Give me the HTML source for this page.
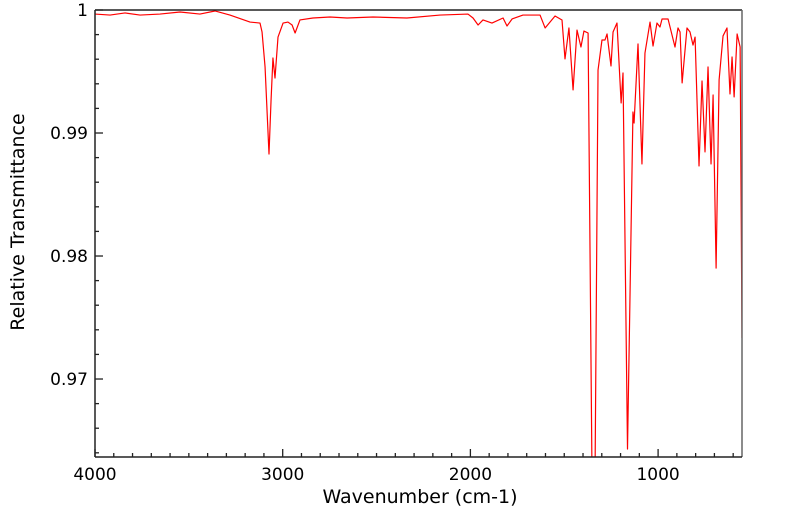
<!DOCTYPE html>
<html><head><meta charset="utf-8"><style>
html,body{margin:0;padding:0;background:#fff;}
svg{display:block;font-family:"DejaVu Sans","Liberation Sans",sans-serif;}
</style></head><body>
<svg id="chart" width="799" height="516">
<defs><clipPath id="clip"><rect x="95" y="10" width="647" height="447"/></clipPath></defs>
<rect x="95" y="10" width="647" height="447" fill="#fff" stroke="none"/>
<g id="ticks"></g>
<g id="series" clip-path="url(#clip)"></g>
<line x1="95" y1="10" x2="742" y2="10" stroke="#222" stroke-width="1.5"/>
<line x1="742" y1="10" x2="742" y2="457" stroke="#666" stroke-width="1.5"/>
<line x1="95" y1="10" x2="95" y2="457" stroke="#222" stroke-width="1.5"/>
<line x1="95" y1="457" x2="742" y2="457" stroke="#222" stroke-width="1.5"/>
<text x="420" y="503" font-size="19" text-anchor="middle">Wavenumber (cm-1)</text>
<text transform="translate(24,222) rotate(-90)" font-size="19" text-anchor="middle">Relative Transmittance</text>
</svg>
<script>
const wavenumbers=[4000,3920,3840,3760,3654,3547,3441,3361,3281,3174,3121,3110,3094,3073,3062,3052,3041,3025,2998,2972,2950,2934,2908,2839,2748,2657,2519,2338,2162,2013,1986,1959,1933,1885,1826,1805,1778,1720,1629,1602,1549,1512,1496,1475,1453,1432,1411,1395,1373,1352,1336,1320,1299,1283,1272,1251,1240,1219,1197,1187,1163,1150,1134,1128,1107,1086,1070,1043,1027,1006,990,979,947,910,894,883,872,846,830,814,803,782,766,750,734,718,707,691,675,654,633,617,606,595,579,563,553];
const transmittance=[0.99967,0.99959,0.99976,0.99959,0.99967,0.99984,0.99967,0.99992,0.99959,0.99902,0.99894,0.99821,0.99537,0.98829,0.99268,0.99610,0.99447,0.99780,0.99894,0.99902,0.99878,0.99813,0.99919,0.99935,0.99943,0.99935,0.99943,0.99935,0.99959,0.99967,0.99935,0.99878,0.99919,0.99894,0.99935,0.99870,0.99927,0.99959,0.99959,0.99854,0.99951,0.99919,0.99602,0.99854,0.99350,0.99837,0.99699,0.99829,0.99813,0.9620,0.9620,0.99512,0.99756,0.99756,0.99805,0.99545,0.99821,0.99894,0.99244,0.99488,0.96431,0.97642,0.99171,0.99081,0.99724,0.98748,0.99650,0.99902,0.99707,0.99894,0.99862,0.99927,0.99927,0.99699,0.99854,0.99821,0.99407,0.99854,0.99821,0.99715,0.99780,0.98732,0.99423,0.98846,0.99537,0.98748,0.99309,0.97902,0.99431,0.99789,0.99854,0.99317,0.99618,0.99293,0.99805,0.99699,0.97333];
const xTickLabels=["4000","3000","2000","1000"];
const yTickLabels=["1","0.99","0.98","0.97"];
const X0=95,X1=742,Y0=10,Y1=457;
const xMax=4000,xMin=553,yMax=1.0,yMin=0.96366;
function xs(v){return X0+(xMax-v)/(xMax-xMin)*(X1-X0);}
function ys(v){return Y0+(yMax-v)/(yMax-yMin)*(Y1-Y0);}
const NS="http://www.w3.org/2000/svg";
const svg=document.getElementById('chart');
const tg=document.getElementById('ticks');
function mk(tag,attrs,parent){const e=document.createElementNS(NS,tag);for(const k in attrs)e.setAttribute(k,attrs[k]);parent.appendChild(e);return e;}
for(let w=4000;w>=xMin;w-=100){
  const major=(w%1000===0);
  const l=mk('line',{x1:xs(w),x2:xs(w),y1:Y1,y2:Y1-(major?8:4),stroke:'#222','stroke-width':1.3},tg);
  
  
}
xTickLabels.forEach(s=>{
  const t=mk('text',{x:xs(+s),y:480,'font-size':17,'text-anchor':'middle'},svg);
  t.textContent=s;
  
  
});
for(let i=0;i<=20;i++){
  const v=1-i*0.002; if(v<yMin)break;
  const major=(i%5===0);
  const l=mk('line',{x1:X0,x2:X0+(major?8:4),y1:ys(v),y2:ys(v),stroke:'#222','stroke-width':1.3},tg);
  
  
}
yTickLabels.forEach(s=>{
  const t=mk('text',{x:88,y:ys(+s)+6,'font-size':17,'text-anchor':'end'},svg);
  t.textContent=s;
  
  
});
const d=wavenumbers.map((w,i)=>(i?'L':'M')+xs(w).toFixed(2)+','+ys(transmittance[i]).toFixed(2)).join(' ');
const p=mk('path',{d:d,fill:'none',stroke:'#ff0000','stroke-width':1.2,'stroke-linejoin':'round'},document.getElementById('series'));


</script>
</body></html>
